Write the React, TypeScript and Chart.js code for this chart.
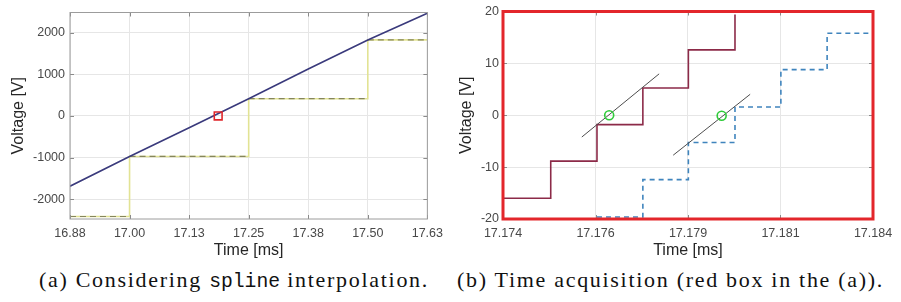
import React, { useEffect, useRef } from 'react';
import { Chart, registerables } from 'chart.js';

Chart.register(...registerables);

// ---------- (a) Considering spline interpolation ----------
const timeA = [16.875, 17.0, 17.125, 17.25, 17.375, 17.5, 17.625];
const voltageA = [-1690, -975, -285, 415, 1130, 1830, 2470];
const sampleTimesA = [16.875, 17.0, 17.25, 17.5, 17.625];
const sampleValuesA = [-2420, -975, 415, 1830, 1830];
const crossTimeA = [17.186];
const crossValueA = [0];
const xTicksA = [16.875, 17.0, 17.125, 17.25, 17.375, 17.5, 17.625];
const xTickLabelsA = ['16.88', '17.00', '17.13', '17.25', '17.38', '17.50', '17.63'];
const yTicksA = [-2000, -1000, 0, 1000, 2000];

// ---------- (b) Time acquisition ----------
const redTimesB = [17.174, 17.17529, 17.17654, 17.17778, 17.17901, 17.18027];
const redValuesB = [-16.0, -8.85, -1.8, 5.25, 12.6, 19.4];
const blueTimesB = [17.17654, 17.17778, 17.17901, 17.18027, 17.18151, 17.18276, 17.184];
const blueValuesB = [-19.6, -12.4, -5.25, 1.6, 8.8, 15.8, 15.8];
const fit1TimesB = [17.17613, 17.17822];
const fit1ValuesB = [-4.2, 7.98];
const fit2TimesB = [17.1786, 17.18068];
const fit2ValuesB = [-7.7, 4.04];
const crossTimesB = [17.17687, 17.17991];
const crossValuesB = [0, -0.1];
const xTicksB = [17.174, 17.1765, 17.179, 17.1815, 17.184];
const xTickLabelsB = ['17.174', '17.176', '17.179', '17.181', '17.184'];
const yTicksB = [-20, -10, 0, 10, 20];

const SANS = '"Liberation Sans", Arial, sans-serif';

const pts = (xs: number[], ys: number[]) => xs.map((x, i) => ({ x, y: ys[i] }));

const holdSegments = (xs: number[], ys: number[]) => {
  const out: { x: number; y: number | null }[] = [];
  for (let i = 0; i < xs.length - 1; i++) {
    out.push({ x: xs[i], y: ys[i] });
    out.push({ x: xs[i + 1], y: ys[i] });
    out.push({ x: xs[i + 1], y: null });
  }
  return out;
};

const framePlugin = (color: string, width: number, tickColor: string) => ({
  id: 'frameBox',
  afterDatasetsDraw(chart: any) {
    const { ctx, chartArea: a, scales } = chart;
    ctx.save();
    ctx.strokeStyle = tickColor;
    ctx.lineWidth = 1;
    ctx.beginPath();
    scales.x.ticks.forEach((t: any) => {
      const px = Math.round(scales.x.getPixelForValue(t.value)) + 0.5;
      ctx.moveTo(px, a.bottom);
      ctx.lineTo(px, a.bottom - 4);
      ctx.moveTo(px, a.top);
      ctx.lineTo(px, a.top + 4);
    });
    scales.y.ticks.forEach((t: any) => {
      const py = Math.round(scales.y.getPixelForValue(t.value)) + 0.5;
      ctx.moveTo(a.left, py);
      ctx.lineTo(a.left + 4, py);
      ctx.moveTo(a.right, py);
      ctx.lineTo(a.right - 4, py);
    });
    ctx.stroke();
    ctx.strokeStyle = color;
    ctx.lineWidth = width;
    ctx.strokeRect(a.left, a.top, a.right - a.left, a.bottom - a.top);
    ctx.restore();
  },
});

const makeScales = (p: {
  xMin: number; xMax: number; xTicks: number[]; xLabels: string[];
  yMin: number; yMax: number; yTicks: number[];
  yWidth: number; yLabelPad: number; yTitlePad: number;
}) => ({
  x: {
    type: 'linear',
    min: p.xMin,
    max: p.xMax,
    afterBuildTicks: (s: any) => { s.ticks = p.xTicks.map((v) => ({ value: v })); },
    afterFit: (s: any) => { s.height = 41; },
    ticks: {
      autoSkip: false,
      maxRotation: 0,
      padding: 7,
      color: '#484848',
      font: { family: SANS, size: 12.5 },
      callback: (_v: any, i: number) => p.xLabels[i],
    },
    grid: { color: '#e6e6e6', drawTicks: false },
    border: { display: false },
    title: {
      display: true,
      text: 'Time [ms]',
      color: '#262626',
      font: { family: SANS, size: 16 },
      padding: { top: 0, bottom: 0 },
    },
  },
  y: {
    type: 'linear',
    min: p.yMin,
    max: p.yMax,
    afterBuildTicks: (s: any) => { s.ticks = p.yTicks.map((v) => ({ value: v })); },
    afterFit: (s: any) => { s.width = p.yWidth; },
    ticks: {
      padding: p.yLabelPad,
      color: '#484848',
      font: { family: SANS, size: 12.5 },
      callback: (v: any) => String(v),
    },
    grid: { color: '#e6e6e6', drawTicks: false },
    border: { display: false },
    title: {
      display: true,
      text: 'Voltage [V]',
      color: '#262626',
      font: { family: SANS, size: 16 },
      padding: { top: p.yTitlePad, bottom: 0 },
    },
  },
});

export default function App() {
  const refA = useRef<HTMLCanvasElement | null>(null);
  const refB = useRef<HTMLCanvasElement | null>(null);

  useEffect(() => {
    const chartA = new Chart(refA.current as HTMLCanvasElement, {
      type: 'line',
      data: {
        datasets: [
          {
            data: pts(crossTimeA, crossValueA),
            showLine: false,
            pointStyle: 'rect',
            pointRadius: 5.5,
            pointBorderColor: '#e0262a',
            pointBackgroundColor: 'rgba(0,0,0,0)',
            pointBorderWidth: 1.6,
          },
          {
            data: pts(timeA, voltageA),
            borderColor: '#3a3a7c',
            borderWidth: 1.6,
            pointRadius: 0,
          },
          {
            data: holdSegments(sampleTimesA, sampleValuesA),
            borderColor: '#85855c',
            borderWidth: 1.2,
            borderDash: [6, 4],
            pointRadius: 0,
            spanGaps: false,
          },
          {
            data: pts(sampleTimesA, sampleValuesA),
            stepped: true,
            borderColor: '#e2e394',
            borderWidth: 1.6,
            pointRadius: 0,
          },
        ],
      } as any,
      options: {
        responsive: false,
        maintainAspectRatio: false,
        animation: false,
        events: [],
        layout: { padding: { left: 0, right: 21, top: 12, bottom: 0 } },
        plugins: { legend: { display: false }, tooltip: { enabled: false } },
        scales: makeScales({
          xMin: 16.875, xMax: 17.625, xTicks: xTicksA, xLabels: xTickLabelsA,
          yMin: -2480, yMax: 2490, yTicks: yTicksA,
          yWidth: 70, yLabelPad: 5, yTitlePad: 9,
        }) as any,
      },
      plugins: [framePlugin('#9c9c9c', 1, '#8a8a8a')],
    });

    const chartB = new Chart(refB.current as HTMLCanvasElement, {
      type: 'line',
      data: {
        datasets: [
          {
            data: pts(crossTimesB, crossValuesB),
            showLine: false,
            pointStyle: 'circle',
            pointRadius: 4.5,
            pointBorderColor: '#2fcb3a',
            pointBackgroundColor: 'rgba(0,0,0,0)',
            pointBorderWidth: 1.6,
          },
          {
            data: pts(fit1TimesB, fit1ValuesB),
            borderColor: '#4d4d4d',
            borderWidth: 1,
            pointRadius: 0,
          },
          {
            data: pts(fit2TimesB, fit2ValuesB),
            borderColor: '#4d4d4d',
            borderWidth: 1,
            pointRadius: 0,
          },
          {
            data: pts(redTimesB, redValuesB),
            stepped: true,
            borderColor: '#8c2a48',
            borderWidth: 1.6,
            pointRadius: 0,
          },
          {
            data: pts(blueTimesB, blueValuesB),
            stepped: true,
            borderColor: '#3f84bd',
            borderWidth: 1.6,
            borderDash: [5, 4],
            pointRadius: 0,
          },
        ],
      } as any,
      options: {
        responsive: false,
        maintainAspectRatio: false,
        animation: false,
        events: [],
        layout: { padding: { left: 0, right: 28, top: 11, bottom: 0 } },
        plugins: { legend: { display: false }, tooltip: { enabled: false } },
        scales: makeScales({
          xMin: 17.174, xMax: 17.184, xTicks: xTicksB, xLabels: xTickLabelsB,
          yMin: -20, yMax: 20, yTicks: yTicksB,
          yWidth: 53, yLabelPad: 4, yTitlePad: 7,
        }) as any,
      },
      plugins: [framePlugin('#e3262b', 3, '#8a8a8a')],
    });

    return () => {
      chartA.destroy();
      chartB.destroy();
    };
  }, []);

  const captionStyle: React.CSSProperties = {
    position: 'absolute',
    top: 267,
    whiteSpace: 'nowrap',
    fontFamily: '"Liberation Serif", "Times New Roman", serif',
    fontSize: 22,
    lineHeight: '26px',
    letterSpacing: '1.7px',
    color: '#111',
  };
  const monoStyle: React.CSSProperties = {
    fontFamily: '"Liberation Mono", "DejaVu Sans Mono", monospace',
    fontSize: 19.7,
    letterSpacing: 0,
  };

  return (
    <div
      style={{
        position: 'fixed',
        left: 0,
        top: 0,
        width: 901,
        height: 302,
        background: '#fff',
        overflow: 'hidden',
      }}
    >
      <canvas
        ref={refA}
        width={450}
        height={260}
        style={{ position: 'absolute', left: 0, top: 0, width: 450, height: 260 }}
      />
      <canvas
        ref={refB}
        width={451}
        height={260}
        style={{ position: 'absolute', left: 450, top: 0, width: 451, height: 260 }}
      />
      <div style={{ ...captionStyle, left: 39 }}>
        (a) Considering <span style={monoStyle}>spline</span> interpolation.
      </div>
      <div style={{ ...captionStyle, left: 457 }}>
        (b) Time acquisition (red box in the (a)).
      </div>
    </div>
  );
}
